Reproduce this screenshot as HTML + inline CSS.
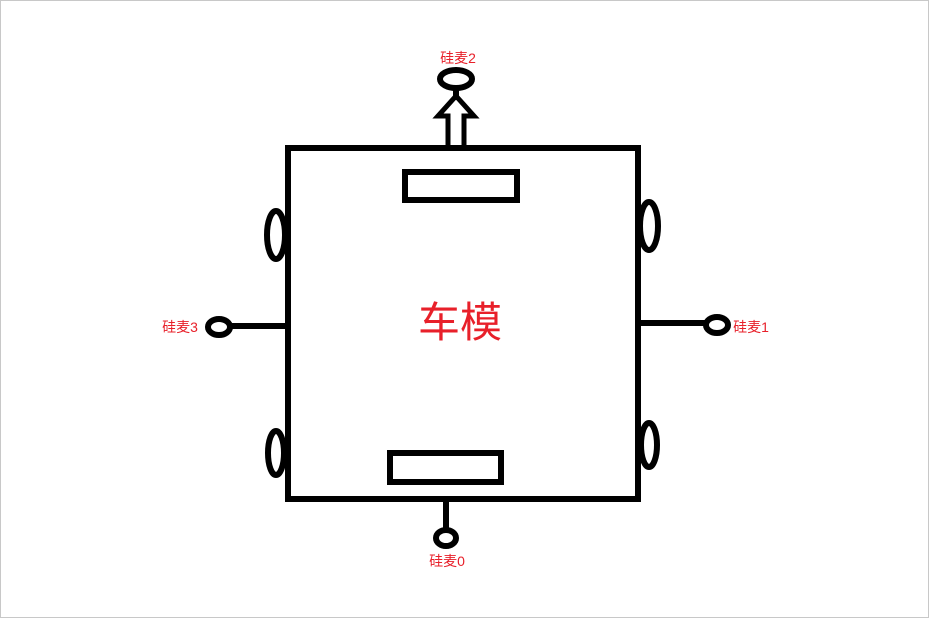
<!DOCTYPE html>
<html><head><style>
html,body{margin:0;padding:0;background:#fff;}
svg{display:block;}
text{font-family:"Liberation Sans","Noto Sans CJK SC",sans-serif;fill:#e8202a;}
</style></head><body>
<svg width="929" height="618" viewBox="0 0 929 618">
<rect x="0.5" y="0.5" width="928" height="617" fill="#fff" stroke="#c8c8c8"/>
<g fill="none" stroke="#000" stroke-width="6">
<rect x="288" y="148" width="350" height="351"/>
<rect x="405" y="172" width="112" height="28"/>
<rect x="390" y="453" width="111" height="29"/>
<ellipse cx="276" cy="235" rx="9" ry="24"/>
<ellipse cx="276" cy="453" rx="8" ry="22"/>
<ellipse cx="649" cy="226" rx="9" ry="24"/>
<ellipse cx="649" cy="445" rx="8" ry="22"/>
<line x1="229" y1="326" x2="288" y2="326"/>
<ellipse cx="219" cy="327" rx="11" ry="8"/>
<line x1="638" y1="323" x2="706" y2="323"/>
<ellipse cx="717" cy="325" rx="11" ry="8"/>
<line x1="446" y1="499" x2="446" y2="528"/>
<ellipse cx="446" cy="538" rx="10" ry="8"/>
<ellipse cx="456" cy="79" rx="16" ry="9"/>
<line x1="456" y1="88" x2="456" y2="100"/>
<path d="M448 146 L448 116 L438 116 L456 96 L474 116 L464 116 L464 146" stroke-width="5" stroke-linejoin="miter"/>
</g>
<text x="460" y="337" font-size="42" text-anchor="middle">车模</text>
<text x="458" y="63" font-size="14" text-anchor="middle">硅麦2</text>
<text x="180" y="332" font-size="14" text-anchor="middle">硅麦3</text>
<text x="751" y="332" font-size="14" text-anchor="middle">硅麦1</text>
<text x="447" y="566" font-size="14" text-anchor="middle">硅麦0</text>
</svg>
</body></html>
